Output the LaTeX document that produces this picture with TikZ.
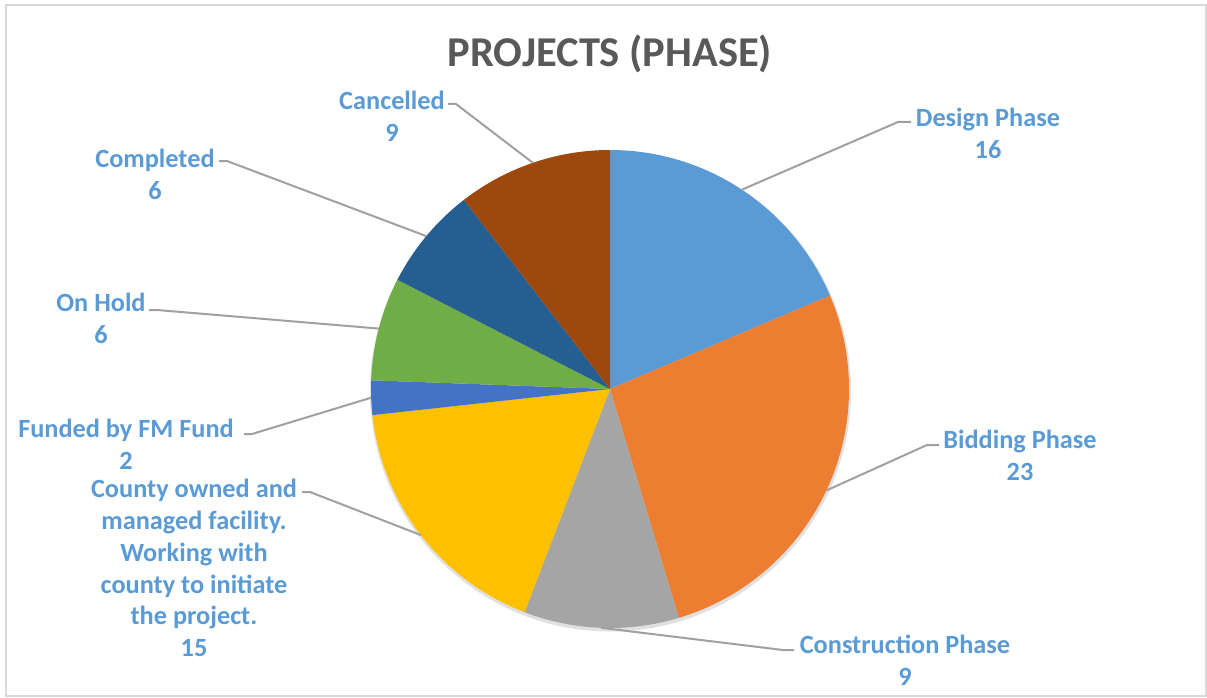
\documentclass[tikz,border=0pt]{standalone}
\usepackage{fontspec}
\setmainfont{Carlito}
\definecolor{lblblue}{HTML}{5B9BD5}
\definecolor{titlegray}{HTML}{595959}
\definecolor{leadgray}{HTML}{A0A0A0}
\definecolor{framegray}{HTML}{D9D9D9}
\definecolor{cDesign}{HTML}{5B9BD5}
\definecolor{cBidding}{HTML}{ED7D31}
\definecolor{cConstr}{HTML}{A5A5A5}
\definecolor{cCounty}{HTML}{FFC000}
\definecolor{cFunded}{HTML}{4472C4}
\definecolor{cHold}{HTML}{70AD47}
\definecolor{cCompl}{HTML}{255E91}
\definecolor{cCanc}{HTML}{9E480E}
\begin{document}
\begin{tikzpicture}[x=1pt,y=-1pt,
  lbl/.style={font=\fontsize{26.3}{31.8}\selectfont\bfseries, text=lblblue, align=center, inner sep=0pt},
  ttl/.style={font=\fontsize{42.5}{50}\selectfont\bfseries, text=titlegray, inner sep=0pt},
  lead/.style={draw=leadgray, line width=2pt, line join=round},
  framebox/.style={draw=framegray, line width=1.6pt}]
\fill[white] (0,0) rectangle (1207,698);
\useasboundingbox (0,0) rectangle (1207,698);
\draw[framebox] (6,5) rectangle (1206,696);

\node[ttl] (title) at (610,54) {PROJECTS (PHASE)};

% pie
\begin{scope}[shift={(610,389)}, yscale=-1]
  \def\R{239}
  \fill[black!12] (0.5,-2) circle[radius=\R+1.5];
  \fill[cDesign]  (0,0) -- (90:\R) arc[start angle=90, end angle=23.023, radius=\R] -- cycle;
  \fill[cBidding] (0,0) -- (23.023:\R) arc[start angle=23.023, end angle=-73.256, radius=\R] -- cycle;
  \fill[cConstr]  (0,0) -- (-73.256:\R) arc[start angle=-73.256, end angle=-110.930, radius=\R] -- cycle;
  \fill[cCounty]  (0,0) -- (-110.930:\R) arc[start angle=-110.930, end angle=-173.721, radius=\R] -- cycle;
  \fill[cFunded]  (0,0) -- (-173.721:\R) arc[start angle=-173.721, end angle=-182.093, radius=\R] -- cycle;
  \fill[cHold]    (0,0) -- (-182.093:\R) arc[start angle=-182.093, end angle=-207.209, radius=\R] -- cycle;
  \fill[cCompl]   (0,0) -- (-207.209:\R) arc[start angle=-207.209, end angle=-232.326, radius=\R] -- cycle;
  \fill[cCanc]    (0,0) -- (-232.326:\R) arc[start angle=-232.326, end angle=-270, radius=\R] -- cycle;
  \coordinate (pDesign) at (56.51:\R);
  \coordinate (pBidding) at (-25.12:\R);
  \coordinate (pConstr) at (-92.09:\R);
  \coordinate (pCounty) at (-142.33:\R);
  \coordinate (pFunded) at (-177.91:\R);
  \coordinate (pHold) at (-194.65:\R);
  \coordinate (pCompl) at (-219.77:\R);
  \coordinate (pCanc) at (-251.16:\R);
\end{scope}

% labels
\node[lbl] (lCanc)   at (392,116) {Cancelled\\9};
\node[lbl] (lCompl)  at (155,174) {Completed\\6};
\node[lbl] (lHold)   at (101,318) {On Hold\\6};
\node[lbl] (lFunded) at (126,444) {Funded by FM Fund\\2};
\node[lbl] (lCounty) at (194,568) {County owned and\\managed facility.\\Working with\\county to initiate\\the project.\\15};
\node[lbl] (lDesign) at (988,133) {Design Phase\\16};
\node[lbl] (lBidding) at (1020,455) {Bidding Phase\\23};
\node[lbl] (lConstr) at (905,660) {Construction Phase\\9};

% leader elbows
\coordinate (eCanc) at (448,104);   \coordinate (kCanc) at (456,104);
\coordinate (eCompl) at (219,161);  \coordinate (kCompl) at (227,161);
\coordinate (eHold) at (149,310);   \coordinate (kHold) at (157,310);
\coordinate (eFunded) at (244,434); \coordinate (kFunded) at (252,434);
\coordinate (eCounty) at (302,492); \coordinate (kCounty) at (310,492);
\coordinate (eDesign) at (911,122); \coordinate (kDesign) at (898,122);
\coordinate (eBidding) at (939,445); \coordinate (kBidding) at (927,445);
\coordinate (eConstr) at (794,650); \coordinate (kConstr) at (783,650);

\draw[lead] (eCanc) -- (kCanc) -- (pCanc);
\draw[lead] (eCompl) -- (kCompl) -- (pCompl);
\draw[lead] (eHold) -- (kHold) -- (pHold);
\draw[lead] (eFunded) -- (kFunded) -- (pFunded);
\draw[lead] (eCounty) -- (kCounty) -- (pCounty);
\draw[lead] (eDesign) -- (kDesign) -- (pDesign);
\draw[lead] (eBidding) -- (kBidding) -- (pBidding);
\draw[lead] (eConstr) -- (kConstr) -- (pConstr);
\end{tikzpicture}
\end{document}
